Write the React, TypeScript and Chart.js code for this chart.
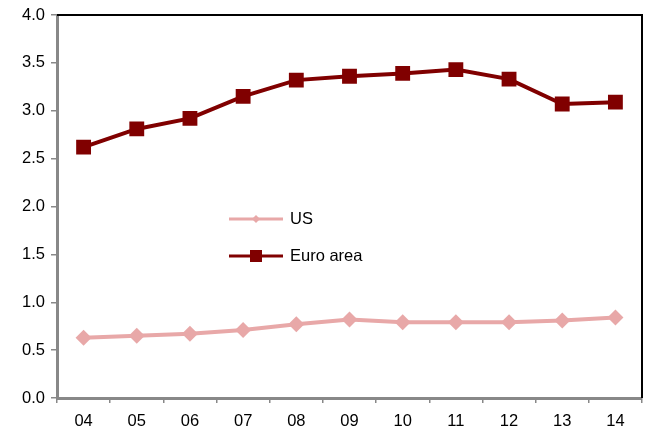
import React, { useEffect, useRef } from "react";
import { Chart, registerables } from "chart.js";

Chart.register(...registerables);

const categories = ["04", "05", "06", "07", "08", "09", "10", "11", "12", "13", "14"];
const usValues = [0.63, 0.65, 0.67, 0.71, 0.77, 0.82, 0.79, 0.79, 0.79, 0.81, 0.84];
const euroValues = [2.62, 2.81, 2.92, 3.15, 3.32, 3.36, 3.39, 3.43, 3.33, 3.07, 3.09];
const yTicks = [0, 0.5, 1, 1.5, 2, 2.5, 3, 3.5, 4];

const US_COLOR = "#E8A8A8";
const EURO_COLOR = "#800000";
const FONT = "'Liberation Sans', Arial, sans-serif";

const framePlugin = {
  id: "frame",
  afterDraw(chart: any) {
    const { ctx, chartArea } = chart;
    ctx.save();
    ctx.strokeStyle = "#000";
    ctx.lineWidth = 2;
    ctx.beginPath();
    ctx.moveTo(chartArea.left, chartArea.top);
    ctx.lineTo(chartArea.right, chartArea.top);
    ctx.lineTo(chartArea.right, chartArea.bottom);
    ctx.stroke();
    ctx.restore();

    // legend
    const items = [
      { label: "US", color: US_COLOR, style: "diamond", y: chartArea.top + 204 },
      { label: "Euro area", color: EURO_COLOR, style: "square", y: chartArea.top + 241 },
    ];
    const x0 = chartArea.left + 172;
    ctx.save();
    items.forEach((it) => {
      ctx.strokeStyle = it.color;
      ctx.fillStyle = it.color;
      ctx.lineWidth = 3;
      ctx.beginPath();
      ctx.moveTo(x0, it.y);
      ctx.lineTo(x0 + 54, it.y);
      ctx.stroke();
      const cx = x0 + 27;
      if (it.style === "diamond") {
        ctx.beginPath();
        ctx.moveTo(cx, it.y - 4);
        ctx.lineTo(cx + 4, it.y);
        ctx.lineTo(cx, it.y + 4);
        ctx.lineTo(cx - 4, it.y);
        ctx.closePath();
        ctx.fill();
      } else {
        ctx.fillRect(cx - 6, it.y - 6, 12, 12);
      }
      ctx.fillStyle = "#000";
      ctx.font = `16.5px ${FONT}`;
      ctx.textBaseline = "middle";
      ctx.textAlign = "left";
      ctx.fillText(it.label, x0 + 61, it.y);
    });
    ctx.restore();
  },
};

export default function App() {
  const ref = useRef<HTMLCanvasElement | null>(null);
  useEffect(() => {
    if (!ref.current) return;
    const chart = new Chart(ref.current, {
      type: "line",
      data: {
        labels: categories,
        datasets: [
          {
            label: "US",
            data: usValues,
            borderColor: US_COLOR,
            backgroundColor: US_COLOR,
            borderWidth: 4,
            pointStyle: "rectRot",
            pointRadius: 8,
            pointBorderWidth: 0,
          },
          {
            label: "Euro area",
            data: euroValues,
            borderColor: EURO_COLOR,
            backgroundColor: EURO_COLOR,
            borderWidth: 4,
            pointStyle: "rect",
            pointRadius: 10.5,
            pointBorderWidth: 0,
          },
        ],
      },
      options: {
        animation: false,
        responsive: true,
        maintainAspectRatio: false,
        layout: { autoPadding: false, padding: { top: 15, right: 5, left: 0, bottom: 0 } },
        plugins: { legend: { display: false }, tooltip: { enabled: false } },
        scales: {
          x: {
            offset: true,
            grid: {
              offset: true,
              drawOnChartArea: false,
              color: "#888",
              tickLength: 5,
              lineWidth: 1.5,
            },
            border: { color: "#888", width: 3 },
            ticks: { color: "#000", font: { family: FONT, size: 16.5 }, padding: 9 },
            afterFit(scale: any) {
              scale.height = 33;
              scale.paddingLeft = 0;
              scale.paddingRight = 0;
            },
          },
          y: {
            min: 0,
            max: 4,
            afterBuildTicks(scale: any) {
              scale.ticks = yTicks.map((v) => ({ value: v }));
            },
            grid: {
              drawOnChartArea: false,
              color: "#888",
              tickLength: 6,
              lineWidth: 1.5,
            },
            border: { color: "#888", width: 3 },
            ticks: {
              color: "#000",
              font: { family: FONT, size: 16.5 },
              padding: 6,
              callback: (v: any) => Number(v).toFixed(1),
            },
            afterFit(scale: any) {
              scale.width = 57;
              scale.paddingTop = 0;
              scale.paddingBottom = 0;
            },
          },
        },
      },
      plugins: [framePlugin],
    });
    return () => chart.destroy();
  }, []);
  return (
    <div style={{ position: "fixed", left: 0, top: 0, width: 647, height: 431, background: "#fff" }}>
      <canvas ref={ref} />
    </div>
  );
}
